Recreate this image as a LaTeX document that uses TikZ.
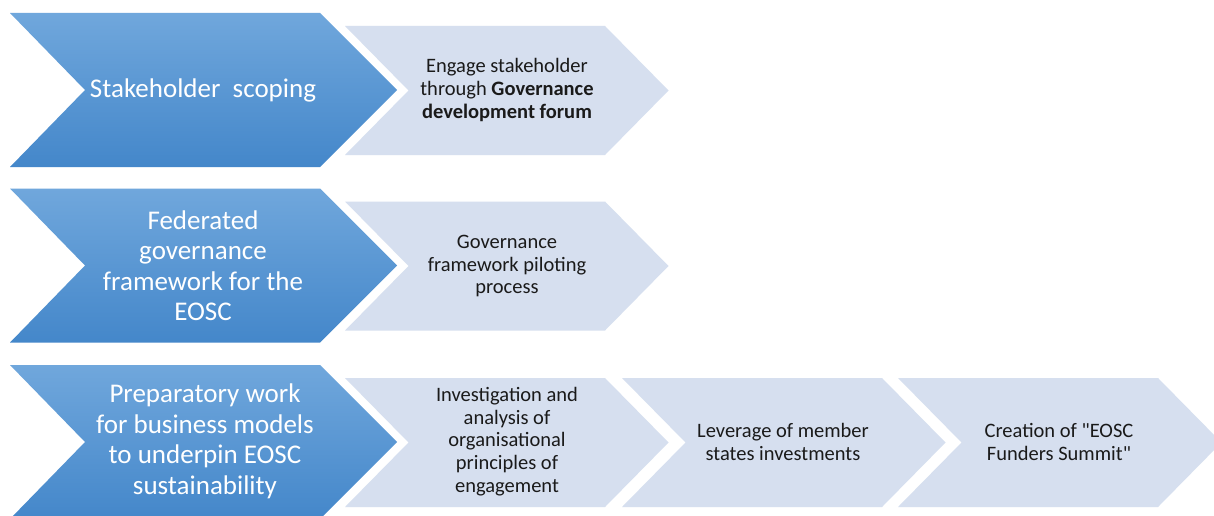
\documentclass[tikz,border=0pt]{standalone}
\usepackage{fontspec}
\setmainfont{Carlito}[Ligatures=TeXOff]
\definecolor{blueT}{HTML}{70A7DC}
\definecolor{blueB}{HTML}{4487CA}
\definecolor{lightF}{HTML}{D6DFEF}
\definecolor{txtD}{HTML}{1A1A1A}
\newcommand\bigchev[2]{%
  \path[top color=blueT,bottom color=blueB]
    (#1,#2-77) -- (#1+310,#2-77) -- (#1+387,#2) -- (#1+310,#2+77)
    -- (#1,#2+77) -- (#1+75,#2) -- cycle;}
\newcommand\smallchev[2]{%
  \fill[lightF]
    (#1,#2-64.5) -- (#1+260,#2-64.5) -- (#1+323.5,#2) -- (#1+260,#2+64.5)
    -- (#1,#2+64.5) -- (#1+63.5,#2) -- cycle;}
\tikzset{
  bigtext/.style={text=white,align=center,font=\fontsize{27}{30.5}\selectfont,inner sep=0pt},
  smalltext/.style={text=txtD,align=center,font=\fontsize{20.5}{22.7}\selectfont,inner sep=0pt}
}
\begin{document}
\begin{tikzpicture}[x=1pt,y=-1pt]
\useasboundingbox (0,0) rectangle (1214,516);
\clip (0,0) rectangle (1214,516);
\fill[white] (0,0) rectangle (1214,516);
% row 1
\bigchev{10}{90}
\smallchev{345}{90.5}
\node[bigtext] (b1) at (203,90) {Stakeholder~~scoping};
\node[smalltext] (s11) at (507,90) {Engage stakeholder\\through \textbf{Governance}\\\textbf{development forum}};
% row 2
\bigchev{10}{265.5}
\smallchev{345}{266}
\node[bigtext] (b2) at (203,265.5) {Federated\\governance\\framework for the\\EOSC};
\node[smalltext] (s21) at (507,266) {Governance\\framework piloting\\process};
% row 3
\bigchev{10}{442}
\smallchev{345}{442.5}
\smallchev{622}{442.5}
\smallchev{898}{442.5}
\node[bigtext] (b3) at (205,441.5) {Preparatory work\\for business models\\to underpin EOSC\\sustainability};
\node[smalltext] (s31) at (507,441.5) {Investigation and\\analysis of\\organisational\\principles of\\engagement};
\node[smalltext] (s32) at (783,442) {Leverage of member\\states investments};
\node[smalltext] (s33) at (1059,442) {Creation of "EOSC\\Funders Summit"};
\end{tikzpicture}
\end{document}
